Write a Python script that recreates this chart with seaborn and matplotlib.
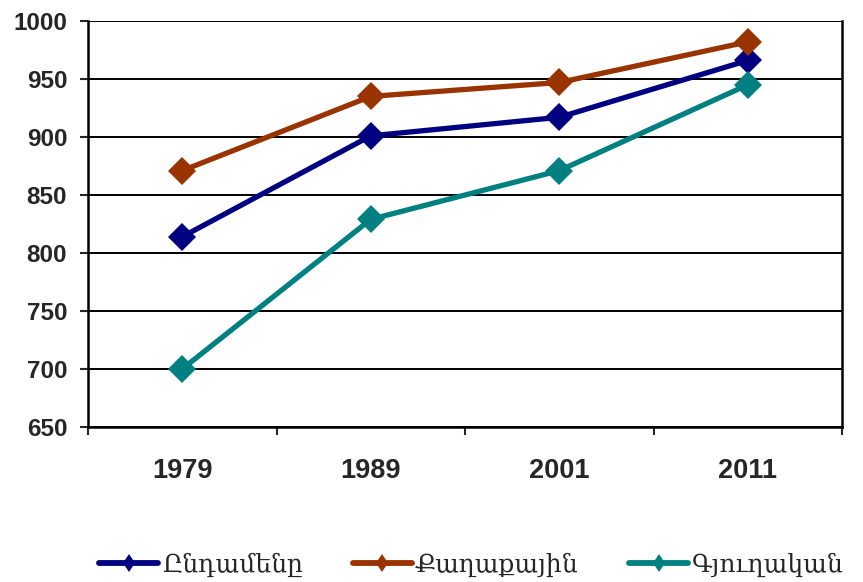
import matplotlib
matplotlib.use("Agg")
import matplotlib.pyplot as plt
import seaborn as sns
import pandas as pd
from matplotlib.ticker import FixedLocator

years = ["1979", "1989", "2001", "2011"]
series_names = ["Ընդամենը", "Քաղաքային", "Գյուղական"]
total = [814, 901, 917, 966]
urban = [871, 935, 947, 982]
rural = [700, 829, 871, 945]
colors = ["#000080", "#993300", "#008080"]

rows = []
for name, vals in zip(series_names, [total, urban, rural]):
    for y, v in zip(years, vals):
        rows.append({"year": y, "value": v, "series": name})
df = pd.DataFrame(rows)

sns.set_style("white")
plt.rcParams["font.family"] = ["Liberation Sans", "DejaVu Sans"]

fig = plt.figure(figsize=(8.63, 5.82), dpi=100)
ax = fig.add_axes([88/863, 1 - 427/582, (842-88)/863, (427-21)/582])

sns.lineplot(data=df, x="year", y="value", hue="series", style="series",
             hue_order=series_names, palette=colors,
             markers=["D", "D", "D"], dashes=False, markersize=14,
             linewidth=3.8, markeredgewidth=0, ax=ax, sort=False, legend=True)

ax.set_xlim(-0.5, 3.5)
ax.set_ylim(650, 1000)
ax.set_yticks(range(650, 1001, 50))
ax.yaxis.grid(True, color="black", linewidth=1.4)
ax.set_axisbelow(True)
ax.set_xlabel("")
ax.set_ylabel("")

ax.set_xticks(range(len(years)))
ax.set_xticklabels(years, fontweight="bold", fontsize=19.5)
ax.xaxis.set_minor_locator(FixedLocator([-0.5, 0.5, 1.5, 2.5, 3.5]))
ax.tick_params(axis="x", which="major", length=0, pad=22)
ax.tick_params(axis="x", which="minor", length=6, width=1.5, direction="out", bottom=True)
ax.tick_params(axis="y", length=6, width=1.5, direction="out", left=True, labelsize=17.5, pad=9)
for lab in ax.get_yticklabels():
    lab.set_fontweight("bold")

for s in ["left", "bottom", "right"]:
    ax.spines[s].set_visible(True)
    ax.spines[s].set_color("black")
    ax.spines[s].set_linewidth(1.8)
ax.spines["top"].set_visible(False)

handles, labels = ax.get_legend_handles_labels()
ax.get_legend().remove()
for h in handles:
    h.set_marker("d")
    h.set_markersize(9.5)
    h.set_linewidth(4.2)
fig.legend(handles, labels, loc="center left", bbox_to_anchor=(99/863, 1 - 565/582), ncol=3,
           frameon=False, prop={"family": ["DejaVu Serif", "DejaVu Sans"], "size": 18},
           handlelength=2.36, handletextpad=0.15, columnspacing=2.0, borderpad=0,
           borderaxespad=0)

fig.savefig("out.png", dpi=100)
